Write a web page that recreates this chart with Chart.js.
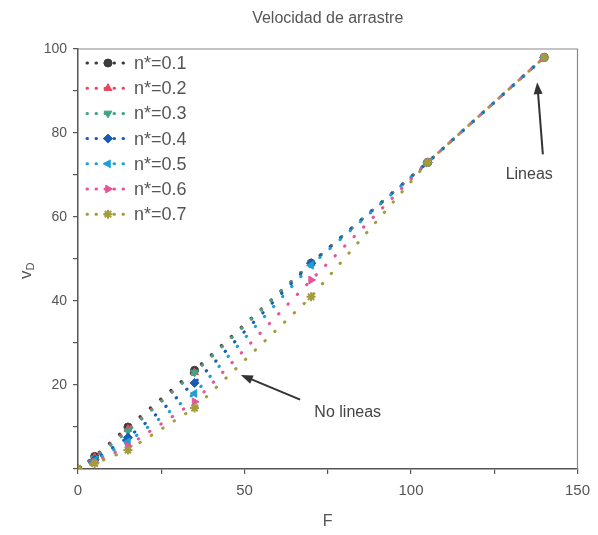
<!DOCTYPE html>
<html>
<head>
<meta charset="utf-8">
<script src="https://cdn.jsdelivr.net/npm/chart.js@4.4.1/dist/chart.umd.min.js"></script>
<style>
  html, body { margin: 0; padding: 0; background: #fff; }
  #wrap { width: 598px; height: 535px; }
</style>
</head>
<body>
<div id="wrap"><canvas id="myChart"></canvas></div>
<script>
// ####### datos #######
const fuerzas = [0, 5, 15, 35, 70, 105, 140];
const etiquetas = ["n*=0.1", "n*=0.2", "n*=0.3", "n*=0.4", "n*=0.5", "n*=0.6", "n*=0.7"];
const v_n01 = [0, 3.0, 10.0, 23.5, 49.0, 73.0, 98.0];
const v_n02 = [0, 2.8, 9.5, 23.0, 49.0, 73.0, 98.0];
const v_n03 = [0, 2.5, 9.0, 23.0, 49.0, 73.0, 98.0];
const v_n04 = [0, 2.2, 7.5, 20.5, 49.0, 73.0, 98.0];
const v_n05 = [0, 2.0, 6.5, 18.0, 48.5, 73.0, 98.0];
const v_n06 = [0, 1.6, 5.5, 16.0, 45.0, 73.0, 98.0];
const v_n07 = [0, 1.3, 4.5, 14.5, 41.0, 73.0, 98.0];
const ticksX = [0, 50, 100, 150];
const ticksY = [20, 40, 60, 80, 100];

const series = [v_n01, v_n02, v_n03, v_n04, v_n05, v_n06, v_n07];
const colores = ["#3c3c3c", "#e8475c", "#3fa585", "#1a5cb0", "#1e9fd6", "#e6549a", "#a39c3c"];
const estilos = ["circle", "triangle", "triangle", "rectRot", "triangle", "triangle", "star"];
const rotaciones = [0, 0, 180, 0, 270, 90, 0];
const radios = [4, 4.5, 4.5, 4.5, 4.5, 4.5, 4.5];

const datasets = series.map((valores, i) => {
  return {
    label: etiquetas[i],
    data: fuerzas.map((f, j) => ({ x: f, y: valores[j] })),
    borderColor: colores[i],
    backgroundColor: colores[i],
    borderWidth: 3,
    borderDash: [0.5, 13],
    borderCapStyle: "round",
    pointStyle: estilos[i],
    pointRotation: rotaciones[i],
    pointRadius: radios[i],
    pointBorderWidth: estilos[i] === "star" ? 2 : 1,
    showLine: true,
    tension: 0,
    order: series.length - 1 - i
  };
});

// flecha con punta rellena
function flecha(ctx, x1, y1, x2, y2) {
  const ang = Math.atan2(y2 - y1, x2 - x1);
  ctx.save();
  ctx.strokeStyle = "#333";
  ctx.fillStyle = "#333";
  ctx.lineWidth = 2;
  ctx.beginPath();
  ctx.moveTo(x1, y1);
  ctx.lineTo(x2 - 9 * Math.cos(ang), y2 - 9 * Math.sin(ang));
  ctx.stroke();
  ctx.beginPath();
  ctx.moveTo(x2, y2);
  ctx.lineTo(x2 - 12 * Math.cos(ang) + 4.5 * Math.sin(ang), y2 - 12 * Math.sin(ang) - 4.5 * Math.cos(ang));
  ctx.lineTo(x2 - 12 * Math.cos(ang) - 4.5 * Math.sin(ang), y2 - 12 * Math.sin(ang) + 4.5 * Math.cos(ang));
  ctx.closePath();
  ctx.fill();
  ctx.restore();
}

// textos, marco, leyenda y anotaciones
const extras = {
  id: "extras",
  afterDraw(chart) {
    const ctx = chart.ctx;
    const a = chart.chartArea;
    const sx = chart.scales.x;
    const sy = chart.scales.y;
    ctx.save();
    // marco superior y derecho
    ctx.strokeStyle = "#8a8a8a";
    ctx.lineWidth = 1.2;
    ctx.beginPath();
    ctx.moveTo(a.left, a.top);
    ctx.lineTo(a.right, a.top);
    ctx.lineTo(a.right, a.bottom);
    ctx.stroke();

    ctx.fillStyle = "#555";
    ctx.textAlign = "center";
    ctx.textBaseline = "middle";
    ctx.font = "16px Arial, 'Liberation Sans', sans-serif";
    ctx.fillText("Velocidad de arrastre", (a.left + a.right) / 2, 19);
    ctx.fillText("F", (a.left + a.right) / 2, 522);

    // v_D con subindice
    ctx.save();
    ctx.translate(26, 272);
    ctx.rotate(-Math.PI / 2);
    ctx.textAlign = "left";
    ctx.font = "17px Arial, 'Liberation Sans', sans-serif";
    const wv = ctx.measureText("v").width;
    ctx.fillText("v", -7, 0);
    ctx.font = "11px Arial, 'Liberation Sans', sans-serif";
    ctx.fillText("D", -7 + wv, 5);
    ctx.restore();

    // leyenda
    ctx.font = "18px Arial, 'Liberation Sans', sans-serif";
    ctx.textAlign = "left";
    datasets.forEach((ds, i) => {
      const y = 63 + 25.2 * i;
      ctx.save();
      ctx.strokeStyle = ds.borderColor;
      ctx.lineWidth = 3;
      ctx.lineCap = "round";
      ctx.setLineDash([0.5, 8.5]);
      ctx.beginPath();
      ctx.moveTo(87, y);
      ctx.lineTo(131, y);
      ctx.stroke();
      ctx.restore();
      ctx.fillStyle = ds.backgroundColor;
      ctx.strokeStyle = ds.borderColor;
      ctx.lineWidth = ds.pointBorderWidth;
      Chart.helpers.drawPoint(ctx, {
        pointStyle: ds.pointStyle,
        rotation: ds.pointRotation,
        radius: ds.pointRadius,
        borderWidth: ds.pointBorderWidth
      }, 108, y);
      ctx.fillStyle = "#555";
      ctx.fillText(ds.label, 134, y + 1);
    });

    // anotaciones
    ctx.font = "16px Arial, 'Liberation Sans', sans-serif";
    ctx.textAlign = "center";
    ctx.fillStyle = "#444";
    ctx.fillText("No lineas", sx.getPixelForValue(81), sy.getPixelForValue(13.4));
    flecha(ctx, sx.getPixelForValue(66.7), sy.getPixelForValue(16.5), sx.getPixelForValue(48.9), sy.getPixelForValue(22.4));
    ctx.fillText("Lineas", sx.getPixelForValue(135.5), sy.getPixelForValue(70.2));
    flecha(ctx, sx.getPixelForValue(139.6), sy.getPixelForValue(74.9), sx.getPixelForValue(137.9), sy.getPixelForValue(92.1));
    ctx.restore();
  }
};

const config = {
  type: "scatter",
  data: { datasets },
  options: {
    responsive: true,
    maintainAspectRatio: false,
    animation: false,
    layout: { padding: { top: 49, right: 13, left: 0, bottom: 0 } },
    plugins: {
      legend: { display: false },
      title: { display: false },
      tooltip: { enabled: false }
    },
    scales: {
      x: {
        type: "linear",
        min: 0,
        max: 150,
        afterFit: (scale) => { scale.height = 66; },
        afterBuildTicks: (scale) => {
          scale.ticks = [0, 25, 50, 75, 100, 125, 150].map((v) => ({ value: v }));
        },
        border: { color: "#555", width: 1.5 },
        grid: { drawOnChartArea: false, tickLength: 5, color: "#555", lineWidth: 1.2 },
        ticks: {
          padding: 8,
          color: "#555",
          font: { size: 15, family: "Arial, 'Liberation Sans', sans-serif" },
          callback: (v) => (ticksX.includes(v) ? v : "")
        }
      },
      y: {
        type: "linear",
        min: 0,
        max: 100,
        afterFit: (scale) => { scale.width = 78; },
        afterBuildTicks: (scale) => {
          scale.ticks = [0, 10, 20, 30, 40, 50, 60, 70, 80, 90, 100].map((v) => ({ value: v }));
        },
        border: { color: "#555", width: 1.5 },
        grid: { drawOnChartArea: false, tickLength: 5, color: "#555", lineWidth: 1.2 },
        ticks: {
          padding: 6,
          color: "#555",
          font: { size: 14, family: "Arial, 'Liberation Sans', sans-serif" },
          callback: (v) => (ticksY.includes(v) ? v : "")
        }
      }
    }
  }
};

const myChartElement = document.getElementById("myChart");
const myChart = new Chart(myChartElement, { ...config, plugins: [extras] });
</script>
</body>
</html>
